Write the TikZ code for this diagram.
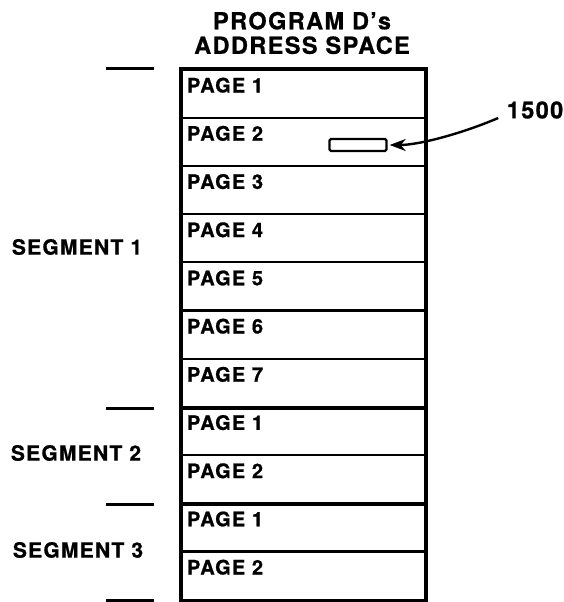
\documentclass[tikz,border=0pt]{standalone}
\usepackage{fontspec}
\setmainfont{TeX Gyre Heros}[LetterSpace=6, BoldFeatures={FakeBold=0.8}]
\usetikzlibrary{positioning, arrows.meta}

\begin{document}
\begin{tikzpicture}[x=1pt, y=-1pt, node distance=48.2pt, on grid,
  pagebox/.style={draw, line width=2.2pt, minimum width=243pt, minimum height=48.2pt,
    text width=233pt, align=left, inner xsep=5pt, inner ysep=5pt,
    text height=18pt, text depth=20.2pt, font=\fontsize{20}{22}\selectfont\bfseries},
  seglabel/.style={font=\fontsize{21}{23}\selectfont\bfseries},
  segtick/.style={line width=3pt}]
  \useasboundingbox (0,0) rectangle (564,602);

  \node[align=center, font=\fontsize{23.5}{24.5}\selectfont\bfseries] (title) at (302,33) {PROGRAM D’s\\ADDRESS SPACE};

  \node[pagebox] (s1p1) at (303.5,93.6) {PAGE 1};
  \node[pagebox] (s1p2) [below=of s1p1] {PAGE 2};
  \node[pagebox] (s1p3) [below=of s1p2] {PAGE 3};
  \node[pagebox] (s1p4) [below=of s1p3] {PAGE 4};
  \node[pagebox] (s1p5) [below=of s1p4] {PAGE 5};
  \node[pagebox] (s1p6) [below=of s1p5] {PAGE 6};
  \node[pagebox] (s1p7) [below=of s1p6] {PAGE 7};
  \node[pagebox] (s2p1) [below=of s1p7] {PAGE 1};
  \node[pagebox] (s2p2) [below=of s2p1] {PAGE 2};
  \node[pagebox] (s3p1) [below=of s2p2] {PAGE 1};
  \node[pagebox] (s3p2) [below=of s3p1] {PAGE 2};

  \draw[line width=3.6pt] (s1p1.north west) rectangle (s3p2.south east);
  \draw[line width=3.4pt] (s1p7.south west) -- (s1p7.south east);
  \draw[line width=3.4pt] (s2p2.south west) -- (s2p2.south east);

  \draw[segtick] ([xshift=-27pt]s1p1.north west) -- ++(-48pt,0pt);
  \draw[segtick] ([xshift=-27pt]s1p7.south west) -- ++(-48pt,0pt);
  \draw[segtick] ([xshift=-27pt]s2p2.south west) -- ++(-48pt,0pt);
  \draw[segtick] ([xshift=-27pt]s3p2.south west) -- ++(-48pt,0pt);

  \node[seglabel] (seg1) at (77,247) {SEGMENT 1};
  \node[seglabel] (seg2) at (76,453) {SEGMENT 2};
  \node[seglabel] (seg3) at (78,550) {SEGMENT 3};

  \node[draw, line width=2.4pt, rounded corners=1.5pt, minimum width=57pt, minimum height=12pt,
    inner sep=0pt] (mark) at (358,145) {};
  \node[font=\fontsize{23.5}{25}\selectfont\bfseries] (addr) at (535,110) {1500};

  \draw[line width=2.4pt, -{Stealth[length=16pt, width=12pt, inset=5pt]}]
    ([shift={(-5pt,-8pt)}]addr.west) .. controls +(-35pt,-15pt) and +(30pt,0pt) .. ([xshift=2pt]mark.east);
\end{tikzpicture}
\end{document}
